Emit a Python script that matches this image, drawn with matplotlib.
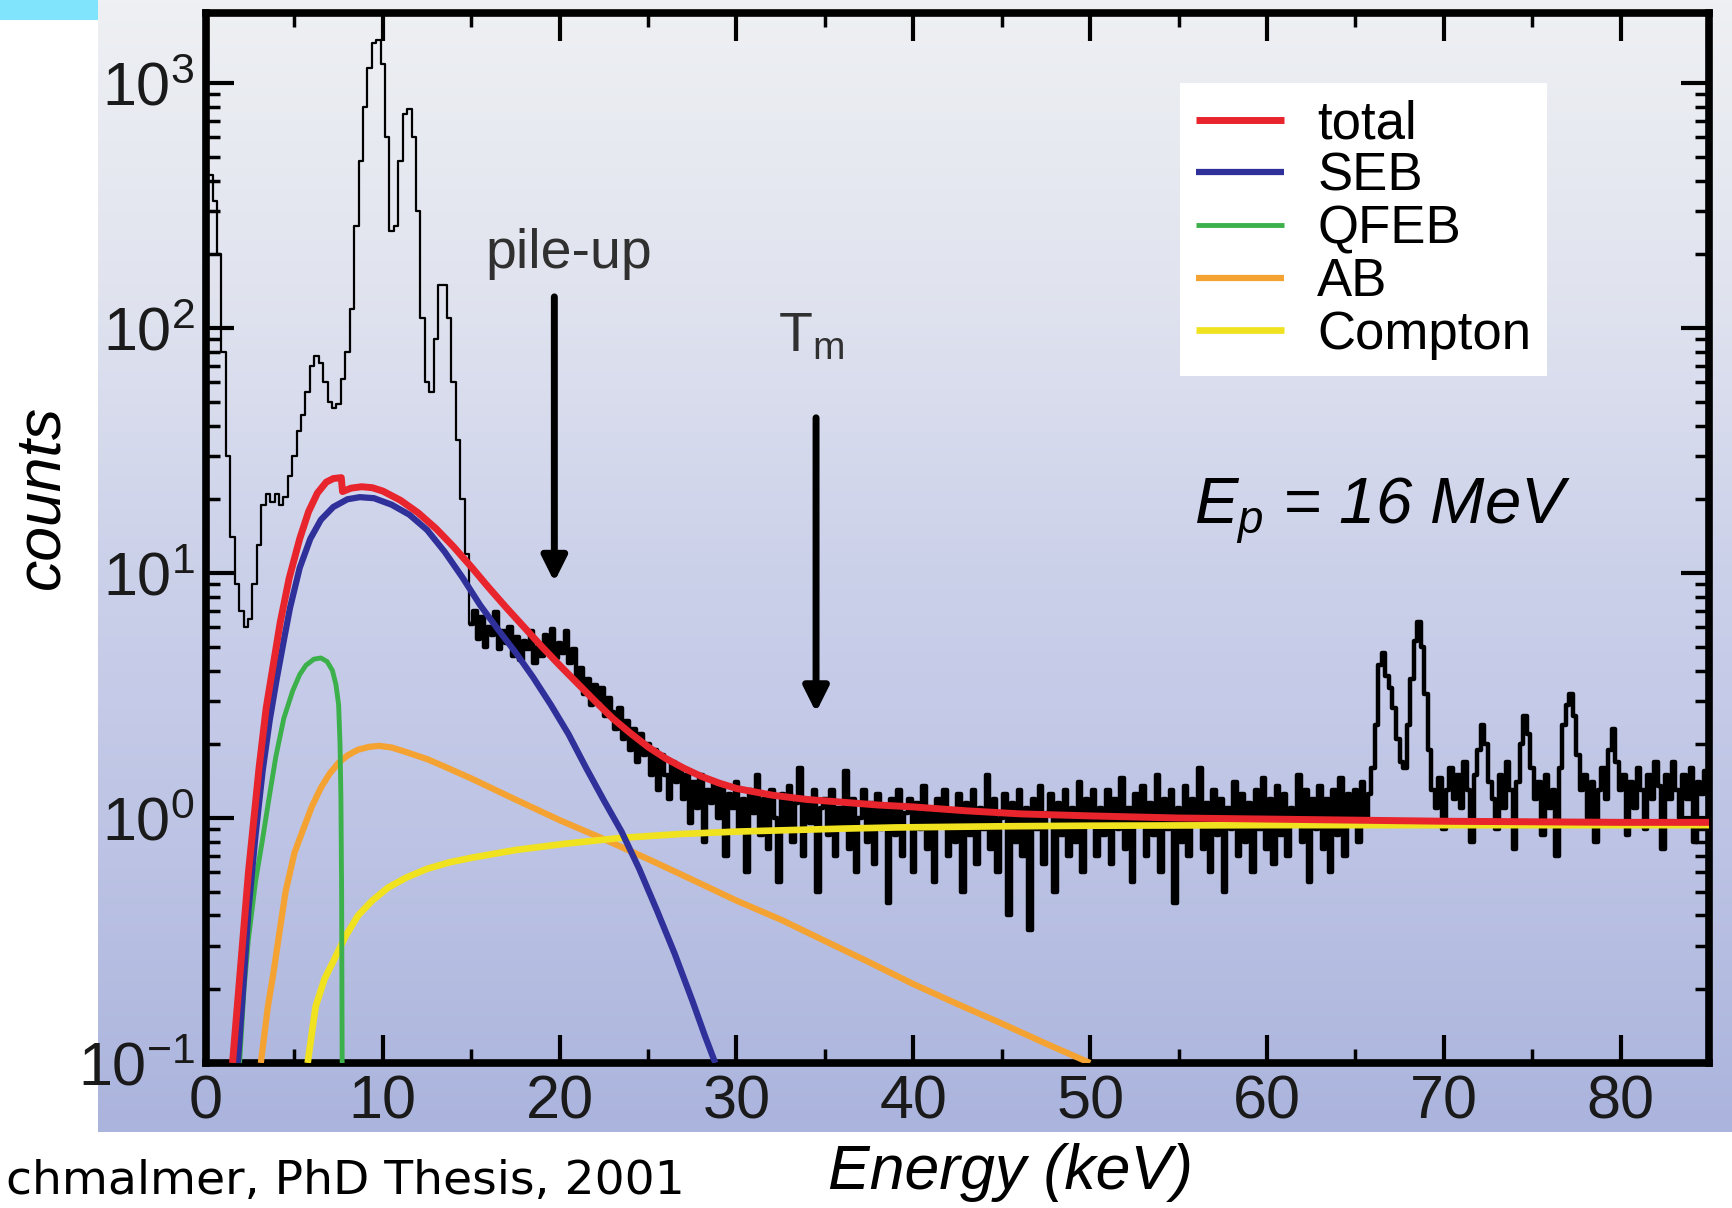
import numpy as np
import matplotlib.pyplot as plt
from matplotlib.colors import LinearSegmentedColormap
from matplotlib.patches import Rectangle
from matplotlib.ticker import LogLocator, NullFormatter

plt.rcParams['font.family'] = ['Liberation Sans', 'DejaVu Sans']
plt.rcParams['mathtext.fontset'] = 'custom'
plt.rcParams['mathtext.rm'] = 'Liberation Sans'
plt.rcParams['mathtext.it'] = 'Liberation Sans:italic'

# ----- measured spectrum (counts per bin) ----- #
energy_low = np.arange(0, 15, 0.25)
counts_low = [
    450, 420, 330, 200, 80, 30, 14, 9,
    7, 6.0, 6.5, 9, 13, 19, 21, 19.5,
    21, 19, 20.5, 25, 30, 38, 44, 55,
    70, 77, 72, 60, 50, 47, 49, 62,
    80, 120, 260, 480, 800, 1150, 1450, 1500,
    1200, 600, 250, 260, 480, 750, 780, 600,
    300, 110, 60, 55, 90, 150, 150, 110,
    60, 35, 20, 12]

energy_high = np.arange(15, 85, 0.2)
counts_high = [
    6.2, 7.0, 5.4, 6.6, 5.0, 6.0, 5.6, 6.9, 4.9, 5.8,
    5.2, 6.0, 4.6, 5.5, 4.4, 5.3, 4.9, 5.8, 4.3, 5.0,
    4.6, 5.6, 4.8, 5.9, 4.5, 5.2, 4.7, 5.8, 4.3, 4.9,
    3.6, 4.1, 3.2, 3.7, 2.9, 3.5, 3.0, 3.4, 2.6, 3.1,
    2.7, 2.3, 2.8, 2.1, 2.5, 1.9, 2.3, 1.7, 2.2, 1.8,
    2.0, 1.5, 1.9, 1.3, 1.8, 1.5, 1.2, 1.7, 1.4, 1.6,
    1.2, 1.5, 0.95, 1.4, 1.1, 1.5, 0.8, 1.3, 1.15, 1.4,
    1.0, 1.35, 0.7, 1.25, 1.1, 1.4, 0.9, 1.2, 0.6, 1.3,
    1.05, 1.5, 0.85, 1.2, 0.75, 1.3, 1.0, 0.55, 1.25, 0.9,
    1.35, 0.8, 1.15, 1.6, 0.7, 1.2, 0.95, 1.3, 0.5, 1.1,
    1.2, 0.85, 1.3, 0.7, 1.1, 0.9, 1.55, 0.75, 1.2, 0.6,
    1.0, 1.3, 0.8, 1.15, 0.65, 1.25, 0.9, 1.1, 0.45, 1.2,
    0.85, 1.3, 0.7, 1.05, 1.2, 0.6, 1.15, 0.9, 1.35, 0.75,
    1.1, 0.55, 1.2, 0.95, 1.3, 0.7, 1.05, 0.8, 1.25, 0.5,
    1.15, 0.85, 1.3, 0.65, 1.1, 0.9, 1.5, 0.75, 1.2, 0.6,
    1.0, 1.25, 0.4, 1.15, 0.8, 1.3, 0.7, 1.1, 0.35, 1.2,
    0.9, 1.35, 0.65, 1.05, 1.25, 0.5, 1.15, 0.85, 1.3, 0.7,
    1.1, 0.8, 1.4, 0.6, 1.2, 0.95, 1.3, 0.7, 1.1, 0.85,
    1.3, 0.65, 1.2, 0.9, 1.45, 0.75, 1.1, 0.55, 1.25, 0.95,
    1.35, 0.7, 1.15, 0.85, 1.5, 0.6, 1.2, 0.9, 1.3, 0.45,
    1.1, 0.8, 1.35, 0.7, 1.2, 0.95, 1.6, 0.75, 1.15, 0.6,
    1.3, 0.85, 1.2, 0.5, 1.1, 0.9, 1.4, 0.7, 1.25, 0.8,
    1.15, 0.6, 1.3, 0.9, 1.45, 0.75, 1.2, 0.65, 1.35, 0.85,
    1.25, 0.7, 1.1, 0.95, 1.5, 0.8, 1.3, 0.55, 1.2, 0.9,
    1.35, 0.75, 1.2, 0.6, 1.3, 0.85, 1.45, 0.7, 1.25, 0.95,
    1.3, 0.8, 1.4, 1.0, 1.25, 1.6, 2.4, 4.2, 4.7, 3.8,
    3.4, 2.8, 2.1, 1.7, 1.6, 2.4, 3.7, 5.3, 6.3, 5.0,
    3.2, 1.9, 1.3, 1.1, 1.45, 0.9, 1.3, 1.6, 1.2, 1.5,
    1.1, 1.7, 1.3, 0.8, 1.5, 1.9, 2.4, 2.0, 1.4, 1.2,
    0.9, 1.5, 1.1, 1.7, 1.3, 0.75, 1.4, 2.0, 2.6, 2.2,
    1.6, 1.2, 1.4, 0.85, 1.5, 1.1, 1.3, 0.7, 1.6, 2.4,
    2.9, 3.2, 2.6, 1.8, 1.3, 1.5, 1.0, 1.4, 0.8, 1.3,
    1.6, 1.2, 1.9, 2.3, 1.7, 1.3, 1.5, 0.85, 1.4, 1.1,
    1.6, 1.3, 0.9, 1.5, 1.2, 1.7, 1.35, 0.75, 1.5, 1.2,
    1.7, 1.3, 1.0, 1.5, 1.2, 1.6, 0.8, 1.4, 1.25, 1.55]

# ----- fit components ----- #
total_e = [1.5, 1.85, 2.4, 3.0, 3.4, 3.8, 4.2, 4.7, 5.3, 5.8, 6.3, 6.8, 7.2, 7.65, 7.72,
           8.2, 8.8, 9.4, 10, 11, 12, 13, 14, 15, 16, 17, 18, 19, 20, 21, 22, 23, 24,
           25, 26, 27, 28, 29, 30, 32, 34, 36, 38, 40, 43, 46, 50, 55, 60, 65, 70, 75, 80, 85]
total_y = [0.1, 0.2, 0.6, 1.6, 2.8, 4.2, 6.3, 9.5, 13.8, 17.8, 21.2, 23.5, 24.3, 24.5, 21.5,
           22.2, 22.5, 22.3, 21.6, 19.8, 17.6, 15.2, 12.8, 10.6, 8.7, 7.2, 6.0, 5.0, 4.2, 3.55,
           3.0, 2.55, 2.22, 1.95, 1.75, 1.6, 1.48, 1.39, 1.32, 1.24, 1.19, 1.16, 1.13, 1.11,
           1.07, 1.04, 1.02, 1.0, 0.99, 0.98, 0.97, 0.965, 0.96, 0.96]

seb_e = [1.8, 2.1, 2.4, 2.8, 3.2, 3.6, 4.0, 4.4, 4.75, 5.3, 5.9, 6.5, 7.2, 8.0, 8.7, 9.5,
         10.5, 11.5, 12.5, 13.5, 14.5, 15.5, 16.5, 17.5, 18.5, 19.5, 20.5, 21.5, 22.5,
         23.5, 24.5, 25.5, 26.5, 27.5, 28.2, 28.8]
seb_y = [0.1, 0.2, 0.42, 0.85, 1.55, 2.5, 3.7, 5.3, 7.2, 10.5, 13.8, 16.5, 18.6, 20.0, 20.4,
         20.2, 19.0, 17.3, 15.0, 12.2, 9.6, 7.4, 5.9, 4.75, 3.75, 2.9, 2.2, 1.6, 1.18,
         0.88, 0.62, 0.42, 0.28, 0.18, 0.13, 0.1]

qfeb_e = [1.9, 2.15, 2.4, 2.8, 3.2, 3.6, 3.95, 4.4, 4.9, 5.3, 5.65, 6.1, 6.5, 6.85, 7.15,
          7.35, 7.5, 7.58, 7.63, 7.67, 7.7]
qfeb_y = [0.1, 0.2, 0.32, 0.55, 0.82, 1.25, 1.78, 2.55, 3.3, 3.85, 4.2, 4.45, 4.5, 4.35,
          4.0, 3.5, 2.9, 2.0, 1.2, 0.5, 0.1]

ab_e = [3.1, 3.5, 3.8, 4.2, 4.5, 5.0, 5.5, 6.0, 6.5, 7.0, 7.5, 8.0, 8.6, 9.2, 9.8, 10.5,
        11.3, 12.5, 13.5, 15, 17.5, 20, 22.5, 25, 27.5, 30, 32.5, 35, 37.5, 40, 42.5,
        45, 47.5, 50]
ab_y = [0.1, 0.17, 0.23, 0.36, 0.5, 0.72, 0.9, 1.12, 1.33, 1.52, 1.68, 1.8, 1.9, 1.95,
        1.97, 1.94, 1.86, 1.74, 1.62, 1.45, 1.19, 0.98, 0.82, 0.68, 0.56, 0.46, 0.385,
        0.315, 0.258, 0.21, 0.174, 0.145, 0.12, 0.1]

compton_e = [5.75, 6.0, 6.2, 6.7, 7.2, 7.9, 8.6, 9.4, 10.3, 11.3, 12.5, 13.8, 15.1, 17.5,
             20.3, 23.5, 26.8, 30, 32.4, 36, 39, 45, 50, 60, 70, 85]
compton_y = [0.1, 0.135, 0.17, 0.22, 0.26, 0.33, 0.40, 0.46, 0.52, 0.57, 0.62, 0.66, 0.69,
             0.74, 0.785, 0.83, 0.86, 0.88, 0.89, 0.905, 0.915, 0.925, 0.93, 0.935, 0.935,
             0.935]

labels = ['total', 'SEB', 'QFEB', 'AB', 'Compton']
colors = ['#e8242c', '#30309a', '#3cb04a', '#f4a232', '#f0e21e']

x_ticks = [0, 10, 20, 30, 40, 50, 60, 70, 80]
x_minor = [5, 15, 25, 35, 45, 55, 65, 75]
y_ticks = [0.1, 1, 10, 100, 1000]
y_ticklabels = [r'$\mathregular{10^{-1}}$', r'$\mathregular{10^{0}}$',
                r'$\mathregular{10^{1}}$', r'$\mathregular{10^{2}}$',
                r'$\mathregular{10^{3}}$']

# ----- figure ----- #
W, H = 1732, 1208
fig = plt.figure(figsize=(W / 100, H / 100), dpi=100)
fig.patch.set_facecolor('white')

# gradient background of the slide
bg = fig.add_axes([98 / W, 1 - 1132 / H, 1 - 98 / W, 1132 / H])
cmap = LinearSegmentedColormap.from_list(
    'slide', [(0, '#eef0f3'), (0.25, '#e1e4ef'), (0.5, '#ccd1ea'),
              (0.75, '#bcc3e4'), (1, '#abb4dd')])
bg.imshow(np.linspace(0, 1, 256).reshape(-1, 1), aspect='auto', cmap=cmap,
          extent=[0, 1, 0, 1])
bg.axis('off')
fig.patches.append(Rectangle((0, 1 - 20 / H), 98 / W, 20 / H, transform=fig.transFigure,
                             facecolor='#80e4fd', edgecolor='none'))

ax = fig.add_axes([206 / W, 1 - 1063 / H, (1709 - 206) / W, (1063 - 13) / H])
ax.set_facecolor('none')

# peaks drawn thin, the noisy part thicker so it reads as a dense band
energy = np.concatenate([energy_low, energy_high])
counts = np.concatenate([counts_low, counts_high])
n_low = len(energy_low)
ax.step(energy[:n_low + 1], counts[:n_low + 1], where='mid', color='black', lw=1.6, zorder=2)
ax.step(energy[n_low:], counts[n_low:], where='mid', color='black', lw=3.2, zorder=2)

curves = [(total_e, total_y, 5.0), (seb_e, seb_y, 4.5), (qfeb_e, qfeb_y, 3.5),
          (ab_e, ab_y, 4.5), (compton_e, compton_y, 4.8)]
handles = []
for (xs, ys, lw), lab, col in zip(curves, labels, colors):
    h, = ax.plot(xs, ys, color=col, lw=lw, label=lab, solid_capstyle='butt',
                 solid_joinstyle='round')
    handles.append(h)
# drawing order: yellow/orange under blue/red
for h, z in zip(handles, [7, 6, 5, 3, 4]):
    h.set_zorder(z)

ax.set_yscale('log')
ax.set_xlim(0, 85)
ax.set_ylim(0.1, 1931)

ax.set_xticks(x_ticks, [str(v) for v in x_ticks])
ax.set_xticks(x_minor, minor=True)
ax.set_yticks(y_ticks, y_ticklabels)
ax.yaxis.set_minor_locator(LogLocator(base=10, subs=np.arange(2, 10)))
ax.yaxis.set_minor_formatter(NullFormatter())
ax.tick_params(which='major', direction='in', length=20, width=3, top=True, right=True,
               labelsize=44, pad=8, labelcolor='#1a1a1a')
ax.tick_params(which='minor', direction='in', length=10, width=2.5, top=True, right=True)
for sp in ax.spines.values():
    sp.set_linewidth(5.5)

leg = ax.legend(handles=handles, loc='upper left', bbox_to_anchor=(0.648, 0.933),
                fontsize=38, frameon=True, fancybox=False, framealpha=1,
                facecolor='white', edgecolor='none', handlelength=1.68,
                handletextpad=0.62, labelspacing=0.05, borderpad=0.3,
                borderaxespad=0)
leg.set_zorder(10)

# arrows and annotations
arrow = dict(arrowstyle='-|>,head_length=0.5,head_width=0.25', color='black', lw=5,
             mutation_scale=30, shrinkA=0, shrinkB=0)
ax.annotate('', xy=(19.7, 9.2), xytext=(19.7, 134), arrowprops=arrow, zorder=8)
ax.annotate('', xy=(34.5, 2.7), xytext=(34.5, 43), arrowprops=arrow, zorder=8)
ax.text(20.5, 200, 'pile-up', ha='center', va='center', fontsize=40, color='#303030')
ax.text(34.2, 92, r'$\mathregular{T_m}$', ha='center', va='center', fontsize=40,
        color='#303030')
ax.text(55.9, 15.8, r'$E_p$ = 16 MeV', ha='left', va='baseline', fontsize=47,
        style='italic', color='black')

fig.text(42 / W, 1 - 497 / H, 'counts', rotation=90, ha='center', va='center',
         style='italic', fontsize=45)
fig.text(1011 / W, 1 - 1173 / H, 'Energy (keV)', ha='center', va='center',
         style='italic', fontsize=45)
fig.text(6 / W, 1 - 1194 / H, 'chmalmer, PhD Thesis, 2001', ha='left', va='baseline',
         fontsize=34, family='DejaVu Sans')

fig.savefig('out.png', dpi=100)
